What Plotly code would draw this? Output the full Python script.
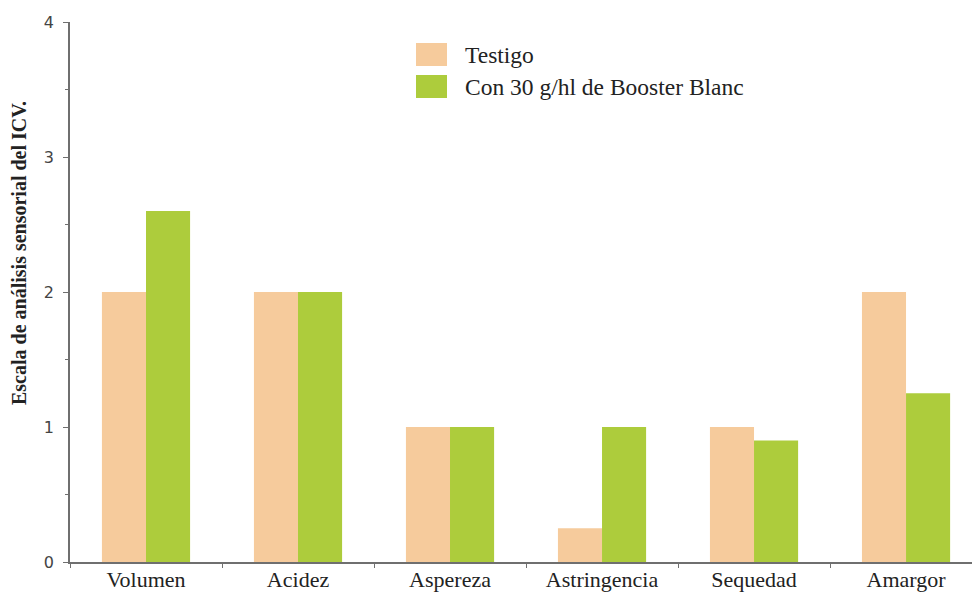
import plotly.graph_objects as go

categories = ["Volumen", "Acidez", "Aspereza", "Astringencia", "Sequedad", "Amargor"]
series_names = ["Testigo", "Con 30 g/hl de Booster Blanc"]
testigo = [2.0, 2.0, 1.0, 0.25, 1.0, 2.0]
booster = [2.6, 2.0, 1.0, 1.0, 0.9, 1.25]
colors = ["#F6CB9C", "#ADCC3C"]
y_ticks = [0, 1, 2, 3, 4]
y_title = "Escala de análisis sensorial del ICV."

fig = go.Figure()
for name, vals, col in zip(series_names, [testigo, booster], colors):
    fig.add_trace(go.Bar(x=categories, y=vals, name=name, marker=dict(color=col, line=dict(width=0)),
                         showlegend=False))

W, H = 972, 594
ml, mr, mt, mb = 70, 0, 22, 32
pw, ph = W - ml - mr, H - mt - mb

def px_x(x):
    return (x - ml) / pw

def px_y(y):
    return (H - mb - y) / ph

shapes = []
annotations = []
legend_rows = [(43, 66), (75, 98)]
for (y0, y1), name, col in zip(legend_rows, series_names, colors):
    shapes.append(dict(type="rect", xref="paper", yref="paper",
                       x0=px_x(416), x1=px_x(447), y0=px_y(y1), y1=px_y(y0),
                       fillcolor=col, line=dict(width=0)))
    annotations.append(dict(xref="paper", yref="paper", x=px_x(463), y=px_y((y0 + y1) / 2),
                            xanchor="left", yanchor="middle", showarrow=False, text=name,
                            font=dict(family="Liberation Serif", size=23.5, color="#222")))

annotations.append(dict(xref="paper", yref="paper", x=px_x(19), y=px_y(253),
                        xanchor="center", yanchor="middle", showarrow=False, text="<b>" + y_title + "</b>",
                        textangle=-90, font=dict(family="Liberation Serif", size=20, color="#222")))

fig.update_layout(
    width=W, height=H,
    margin=dict(l=ml, r=mr, t=mt, b=mb, autoexpand=False),
    paper_bgcolor="white", plot_bgcolor="white",
    barmode="group", bargap=0.42, bargroupgap=0,
    shapes=shapes, annotations=annotations,
)
fig.update_xaxes(range=[-0.5, 5.434], automargin=False, showline=True, linecolor="#6f6f6f", linewidth=1.5,
                 ticks="outside", tickson="boundaries", ticklen=4, tickcolor="#6f6f6f",
                 tickfont=dict(family="Liberation Serif", size=22, color="#222"),
                 ticklabelstandoff=-3,
                 showgrid=False, zeroline=False)
fig.update_yaxes(range=[0, 4], automargin=False, tickvals=y_ticks, ticktext=[str(t) for t in y_ticks],
                 showline=True, linecolor="#6f6f6f", linewidth=1.5,
                 ticks="outside", ticklen=5, tickcolor="#6f6f6f",
                 minor=dict(dtick=0.5, ticks="outside", ticklen=3, tickcolor="#6f6f6f", showgrid=False),
                 tickfont=dict(family="DejaVu Sans", size=16, color="#444"),
                 ticklabelstandoff=6,
                 showgrid=False, zeroline=False)

fig.write_html("out.html")
